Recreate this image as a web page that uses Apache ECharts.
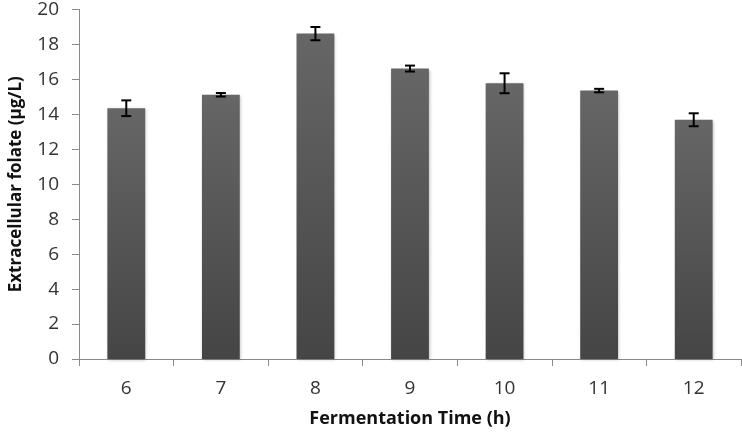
<!DOCTYPE html>
<html><head><meta charset="utf-8">
<script src="https://cdn.jsdelivr.net/npm/echarts@6/dist/echarts.min.js"></script>
<style>html,body{margin:0;padding:0;background:#fff}#c{width:742px;height:434px}</style>
</head><body><div id="c"></div>
<script>
var categories = ['6','7','8','9','10','11','12'];
var values = [14.35, 15.12, 18.62, 16.62, 15.78, 15.36, 13.69];
var errors = [0.45, 0.1, 0.38, 0.17, 0.57, 0.1, 0.37];
var yTicks = {min: 0, max: 20, interval: 2};

var chart = echarts.init(document.getElementById('c'));
var font = 'Open Sans, Liberation Sans, sans-serif';
chart.setOption({
  animation: false,
  grid: {left: 72, right: 1, top: 8, bottom: 75, containLabel: false},
  xAxis: {
    type: 'category', data: categories,
    axisLine: {lineStyle: {color: '#8a8a8a', width: 1}},
    axisTick: {show: true, length: 7, lineStyle: {color: '#8a8a8a'}},
    axisLabel: {color: '#333', fontSize: 19, fontFamily: font, margin: 20},
    name: 'Fermentation Time (h)', nameLocation: 'middle', nameGap: 51,
    nameTextStyle: {color: '#111', fontSize: 18, fontWeight: 'bold', fontFamily: font}
  },
  yAxis: {
    type: 'value', min: yTicks.min, max: yTicks.max, interval: yTicks.interval,
    splitLine: {show: false},
    axisLine: {show: true, lineStyle: {color: '#8a8a8a'}},
    axisTick: {show: true, length: 7, lineStyle: {color: '#8a8a8a'}},
    axisLabel: {color: '#333', fontSize: 19, fontFamily: font, margin: 20},
    name: 'Extracellular folate (µg/L)', nameLocation: 'middle', nameGap: 54,
    nameTextStyle: {color: '#111', fontSize: 17, fontWeight: 'bold', fontFamily: font}
  },
  series: [{
    type: 'bar', data: values, barWidth: '40%',
    itemStyle: {
      color: new echarts.graphic.LinearGradient(0, 0, 0, 1, [
        {offset: 0, color: '#666666'}, {offset: 1, color: '#454545'}
      ]),
      shadowColor: 'rgba(0,0,0,0.25)', shadowBlur: 3, shadowOffsetX: 1, shadowOffsetY: 1
    }
  }, {
    type: 'custom',
    data: values.map(function (v, i) { return [i, v - errors[i], v + errors[i]]; }),
    renderItem: function (params, api) {
      var lo = api.coord([api.value(0), api.value(1)]);
      var hi = api.coord([api.value(0), api.value(2)]);
      var hw = 5;
      var st = {stroke: '#000', lineWidth: 2};
      return {type: 'group', children: [
        {type: 'line', shape: {x1: lo[0], y1: lo[1], x2: hi[0], y2: hi[1]}, style: st},
        {type: 'line', shape: {x1: lo[0]-hw, y1: lo[1], x2: lo[0]+hw, y2: lo[1]}, style: st},
        {type: 'line', shape: {x1: hi[0]-hw, y1: hi[1], x2: hi[0]+hw, y2: hi[1]}, style: st}
      ]};
    },
    encode: {x: 0, y: [1, 2]},
    z: 10
  }]
});
</script></body></html>
